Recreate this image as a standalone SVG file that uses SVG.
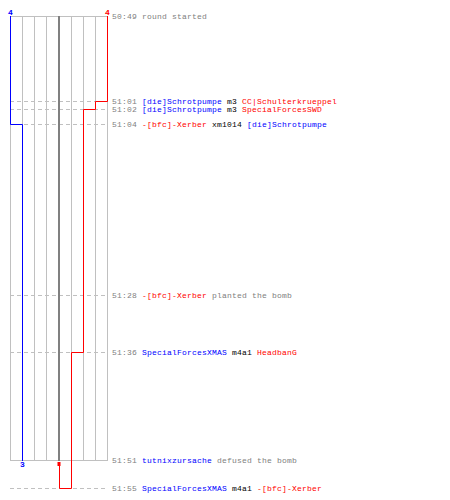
<svg xmlns="http://www.w3.org/2000/svg" width="450" height="500" viewBox="0 0 450 500">
<style>
.grid{stroke:#c0c0c0;stroke-width:1;fill:none}
.center{stroke:#808080;stroke-width:2;fill:none}
.dash{stroke:#c0c0c0;stroke-width:1;stroke-dasharray:4,3;fill:none}
.blue{stroke:#0000ff;stroke-width:1;fill:none}
.red{stroke:#ff0000;stroke-width:1;fill:none}
text{font-family:"Liberation Mono","DejaVu Sans Mono",monospace;font-size:8px;letter-spacing:0.2px}
.t{fill:#808080}
.b{fill:#0000ff}
.r{fill:#ff0000}
.k{fill:#000000}
.cnt{font-size:8px;font-weight:bold;text-anchor:middle;letter-spacing:0}
</style>
<rect width="450" height="500" fill="#ffffff"/>
<g id="grid">
<line class="dash" x1="10" y1="101.5" x2="107" y2="101.5"/>
<line class="dash" x1="10" y1="109.5" x2="107" y2="109.5"/>
<line class="dash" x1="10" y1="124.5" x2="107" y2="124.5"/>
<line class="dash" x1="10" y1="295.5" x2="107" y2="295.5"/>
<line class="dash" x1="10" y1="352.5" x2="107" y2="352.5"/>
<line class="dash" x1="10" y1="488.5" x2="107" y2="488.5"/>
<line class="grid" x1="10.5" y1="16" x2="10.5" y2="460"/>
<line class="grid" x1="22.5" y1="16" x2="22.5" y2="460"/>
<line class="grid" x1="34.5" y1="16" x2="34.5" y2="460"/>
<line class="grid" x1="46.5" y1="16" x2="46.5" y2="460"/>
<line class="grid" x1="71.5" y1="16" x2="71.5" y2="460"/>
<line class="grid" x1="83.5" y1="16" x2="83.5" y2="460"/>
<line class="grid" x1="95.5" y1="16" x2="95.5" y2="460"/>
<line class="grid" x1="107.5" y1="16" x2="107.5" y2="460"/>
<line class="grid" x1="10" y1="16.5" x2="108" y2="16.5"/>
<line class="grid" x1="10" y1="460.5" x2="108" y2="460.5"/>
<line class="center" x1="59" y1="16" x2="59" y2="461"/>
</g>
<g id="connectors">
<polyline class="blue" points="10.5,16 10.5,124.5 22.5,124.5 22.5,461"/>
<polyline class="red" points="107.5,16 107.5,101.5 95.5,101.5 95.5,109.5 83.5,109.5 83.5,352.5 71.5,352.5 71.5,488.5 59.5,488.5 59.5,462"/>
<rect x="57.5" y="462" width="3" height="4" fill="#ff0000"/>
</g>
<g id="team-blue">
<text class="b cnt" x="10.5" y="14.5">4</text>
<text class="b cnt" x="22.5" y="467">3</text>
</g>
<g id="team-red">
<text class="r cnt" x="107.5" y="14.5">4</text>
</g>
<g id="ev-5049"><text x="112" y="19"><tspan class="t">50:49 round started</tspan></text></g>
<g id="ev-5101"><text x="112" y="103.5"><tspan class="t">51:01 </tspan><tspan class="b">[die]Schrotpumpe</tspan><tspan class="k"> m3 </tspan><tspan class="r">CC|Schulterkrueppel</tspan></text></g>
<g id="ev-5102"><text x="112" y="112"><tspan class="t">51:02 </tspan><tspan class="b">[die]Schrotpumpe</tspan><tspan class="k"> m3 </tspan><tspan class="r">SpecialForcesSWD</tspan></text></g>
<g id="ev-5104"><text x="112" y="127"><tspan class="t">51:04 </tspan><tspan class="r">-[bfc]-Xerber</tspan><tspan class="k"> xm1014 </tspan><tspan class="b">[die]Schrotpumpe</tspan></text></g>
<g id="ev-5128"><text x="112" y="298"><tspan class="t">51:28 </tspan><tspan class="r">-[bfc]-Xerber</tspan><tspan class="t"> planted the bomb</tspan></text></g>
<g id="ev-5136"><text x="112" y="355"><tspan class="t">51:36 </tspan><tspan class="b">SpecialForcesXMAS</tspan><tspan class="k"> m4a1 </tspan><tspan class="r">HeadbanG</tspan></text></g>
<g id="ev-5151"><text x="112" y="463"><tspan class="t">51:51 </tspan><tspan class="b">tutnixzursache</tspan><tspan class="t"> defused the bomb</tspan></text></g>
<g id="ev-5155"><text x="112" y="491"><tspan class="t">51:55 </tspan><tspan class="b">SpecialForcesXMAS</tspan><tspan class="k"> m4a1 </tspan><tspan class="r">-[bfc]-Xerber</tspan></text></g>
</svg>
